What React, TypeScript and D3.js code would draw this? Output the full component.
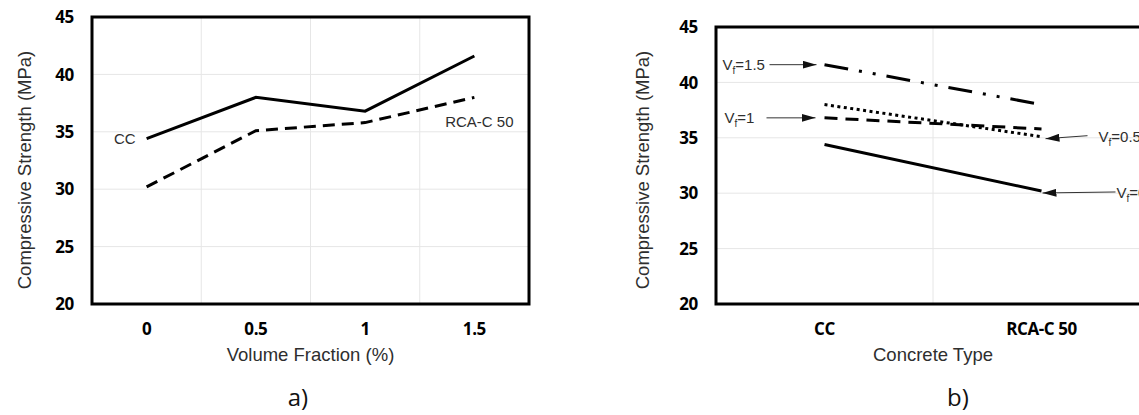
import React from "react";
import * as d3 from "d3";

// values
const fractions = ["0", "0.5", "1", "1.5"];
const concreteTypes = ["CC", "RCA-C 50"];
const ccStrength = [34.4, 38.0, 36.8, 41.6];
const rcaStrength = [30.2, 35.1, 35.8, 38.0];
const yTicks = [20, 25, 30, 35, 40, 45];

const width = 1139;
const height = 415;
const titleFont = "'Liberation Sans', Arial, sans-serif";
const tickFont = "'Open Sans', sans-serif";

// line styles for Vf = 0, 0.5, 1, 1.5 in panel b
const vfDash = ["none", "3,3.5", "13,8", "24,11,3,11,3,11"];

export default class App extends React.Component {
  constructor(props) {
    super(props);
    this.svgRef = React.createRef();
    this.handleCanvas = this.handleCanvas.bind(this);
  }

  componentDidMount() {
    this.handleCanvas();
  }

  drawFrame(g, box, band, points, y, xTitle, yTitleX) {
    // grid
    g.selectAll(".hgrid")
      .data(yTicks.slice(1, -1))
      .enter()
      .append("line")
      .attr("x1", box.left)
      .attr("x2", box.right)
      .attr("y1", d => y(d))
      .attr("y2", d => y(d))
      .attr("stroke", "#e6e6e6")
      .attr("stroke-width", 1);

    g.selectAll(".vgrid")
      .data(band.domain().slice(1))
      .enter()
      .append("line")
      .attr("x1", d => band(d))
      .attr("x2", d => band(d))
      .attr("y1", box.top)
      .attr("y2", box.bottom)
      .attr("stroke", "#e6e6e6")
      .attr("stroke-width", 1);

    g.append("rect")
      .attr("x", box.left)
      .attr("y", box.top)
      .attr("width", box.right - box.left)
      .attr("height", box.bottom - box.top)
      .attr("fill", "none")
      .attr("stroke", "#000")
      .attr("stroke-width", 3);

    // y tick labels
    g.selectAll(".ytick")
      .data(yTicks)
      .enter()
      .append("text")
      .attr("x", box.left - 18)
      .attr("y", d => y(d))
      .attr("dy", "0.36em")
      .attr("text-anchor", "end")
      .style("font-family", tickFont)
      .style("font-weight", 700)
      .style("font-size", "17px")
      .style("letter-spacing", "-0.3px")
      .style("fill", "#000")
      .text(d => d);

    // x tick labels
    g.selectAll(".xtick")
      .data(points.domain())
      .enter()
      .append("text")
      .attr("x", d => points(d))
      .attr("y", 335)
      .attr("text-anchor", "middle")
      .style("font-family", tickFont)
      .style("font-weight", 700)
      .style("font-size", "17px")
      .style("letter-spacing", "-0.4px")
      .style("fill", "#000")
      .text(d => d);

    g.append("text")
      .attr("x", (box.left + box.right) / 2)
      .attr("y", 361)
      .attr("text-anchor", "middle")
      .style("font-family", titleFont)
      .style("font-size", "18.5px")
      .style("fill", "#2e2e2e")
      .text(xTitle);

    g.append("text")
      .attr("transform", `translate(${yTitleX},170) rotate(-90)`)
      .attr("text-anchor", "middle")
      .style("font-family", titleFont)
      .style("font-size", "18.5px")
      .style("fill", "#2e2e2e")
      .text("Compressive Strength (MPa)");
  }

  vfLabel(g, x, yPos, value) {
    const t = g
      .append("text")
      .attr("x", x)
      .attr("y", yPos)
      .style("font-family", titleFont)
      .style("font-size", "15px")
      .style("fill", "#2e2e2e");
    t.append("tspan").text("V");
    t.append("tspan").attr("dy", 4).style("font-size", "10px").text("f");
    t.append("tspan").attr("dy", -4).text("=" + value);
  }

  handleCanvas() {
    const svg = d3.select(this.svgRef.current);

    svg
      .append("defs")
      .append("marker")
      .attr("id", "arrow")
      .attr("markerUnits", "userSpaceOnUse")
      .attr("markerWidth", 14)
      .attr("markerHeight", 8)
      .attr("refX", 14)
      .attr("refY", 4)
      .attr("orient", "auto")
      .append("path")
      .attr("d", "M0,0 L14,4 L0,8 Z")
      .attr("fill", "#111");

    // ---- panel a) ----
    const boxA = { left: 92, right: 529, top: 17, bottom: 304 };
    const xA = d3
      .scalePoint()
      .domain(fractions)
      .range([boxA.left, boxA.right])
      .padding(0.5);
    const bandA = d3
      .scaleBand()
      .domain(fractions)
      .range([boxA.left, boxA.right]);
    const yA = d3
      .scaleLinear()
      .domain([20, 45])
      .range([boxA.bottom, boxA.top]);

    const gA = svg.append("g");
    this.drawFrame(gA, boxA, bandA, xA, yA, "Volume Fraction (%)", 30.5);

    const lineA = d3
      .line()
      .x((d, i) => xA(fractions[i]))
      .y(d => yA(d));

    gA.append("path")
      .attr("d", lineA(ccStrength))
      .attr("fill", "none")
      .attr("stroke", "#000")
      .attr("stroke-width", 3);

    gA.append("path")
      .attr("d", lineA(rcaStrength))
      .attr("fill", "none")
      .attr("stroke", "#000")
      .attr("stroke-width", 3)
      .attr("stroke-dasharray", "12,7");

    gA.append("text")
      .attr("x", xA(fractions[0]) - 11)
      .attr("y", yA(ccStrength[0]) + 5)
      .attr("text-anchor", "end")
      .style("font-family", titleFont)
      .style("font-size", "15px")
      .style("fill", "#2e2e2e")
      .text("CC");

    gA.append("text")
      .attr("x", xA(fractions[3]) + 5)
      .attr("y", yA(rcaStrength[3]) + 30)
      .attr("text-anchor", "middle")
      .style("font-family", titleFont)
      .style("font-size", "15px")
      .style("fill", "#2e2e2e")
      .text("RCA-C 50");

    // ---- panel b) ----
    const boxB = { left: 716, right: 1150, top: 27, bottom: 304 };
    const xB = d3
      .scalePoint()
      .domain(concreteTypes)
      .range([boxB.left, boxB.right])
      .padding(0.5);
    const bandB = d3
      .scaleBand()
      .domain(concreteTypes)
      .range([boxB.left, boxB.right]);
    const yB = d3
      .scaleLinear()
      .domain([20, 45])
      .range([boxB.bottom, boxB.top]);

    const gB = svg.append("g");
    this.drawFrame(gB, boxB, bandB, xB, yB, "Concrete Type", 649);

    const lineB = d3
      .line()
      .x((d, i) => xB(concreteTypes[i]))
      .y(d => yB(d));

    fractions.forEach((f, i) => {
      gB.append("path")
        .attr("d", lineB([ccStrength[i], rcaStrength[i]]))
        .attr("fill", "none")
        .attr("stroke", "#000")
        .attr("stroke-width", 3)
        .attr("stroke-dasharray", vfDash[i]);
    });

    // arrows + labels
    const xCC = xB(concreteTypes[0]);
    const xRCA = xB(concreteTypes[1]);
    const arrow = (x1, y1, x2, y2) =>
      gB.append("line")
        .attr("x1", x1)
        .attr("y1", y1)
        .attr("x2", x2)
        .attr("y2", y2)
        .attr("stroke", "#333")
        .attr("stroke-width", 1)
        .attr("marker-end", "url(#arrow)");

    arrow(xCC - 55, yB(ccStrength[3]), xCC - 8, yB(ccStrength[3]));
    this.vfLabel(gB, xCC - 102, yB(ccStrength[3]) + 5, fractions[3]);

    arrow(xCC - 58, yB(ccStrength[2]), xCC - 9, yB(ccStrength[2]));
    this.vfLabel(gB, xCC - 100, yB(ccStrength[2]) + 5, fractions[2]);

    arrow(xRCA + 46, yB(rcaStrength[1]) - 1, xRCA + 4, yB(rcaStrength[1]) + 2);
    this.vfLabel(gB, xRCA + 57, yB(rcaStrength[1]) + 5, fractions[1]);

    arrow(xRCA + 74, yB(rcaStrength[0]) + 1, xRCA + 1, yB(rcaStrength[0]) + 2);
    this.vfLabel(gB, xRCA + 75, yB(rcaStrength[0]) + 7, fractions[0]);

    // panel captions
    svg.append("text")
      .attr("x", 298)
      .attr("y", 406)
      .attr("text-anchor", "middle")
      .style("font-family", tickFont)
      .style("font-size", "24px")
      .style("fill", "#111")
      .text("a)");

    svg.append("text")
      .attr("x", 958)
      .attr("y", 406)
      .attr("text-anchor", "middle")
      .style("font-family", tickFont)
      .style("font-size", "24px")
      .style("fill", "#111")
      .text("b)");
  }

  render() {
    return (
      <svg
        ref={this.svgRef}
        width={width}
        height={height}
        style={{ position: "absolute", left: 0, top: 0, background: "#fff" }}
      ></svg>
    );
  }
}
